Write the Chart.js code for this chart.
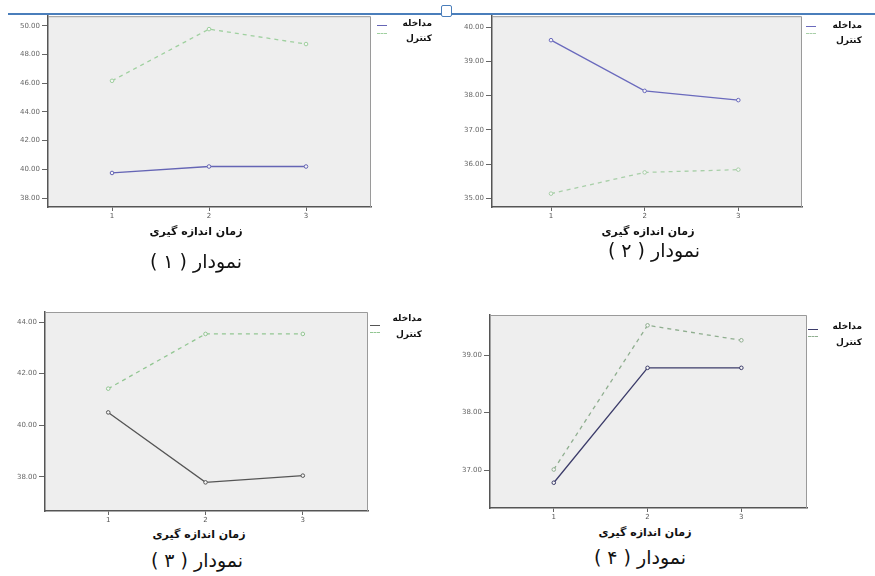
<!DOCTYPE html>
<html><head><meta charset="utf-8">
<script src="https://cdn.jsdelivr.net/npm/chart.js@4/dist/chart.umd.min.js"></script>
<style>
body{margin:0;width:875px;height:576px;background:#fff;position:relative;overflow:hidden;font-family:"DejaVu Sans",sans-serif;}
canvas{position:absolute;}
.t{position:absolute;direction:rtl;white-space:nowrap;color:#111;line-height:1;text-align:center;}
.xt{font-weight:bold;font-size:11px;width:200px;}
.cap{font-size:19px;width:200px;}
.lg{position:absolute;direction:rtl;white-space:nowrap;font-weight:bold;font-size:9px;line-height:1;color:#111;text-align:right;width:60px;}
.ln{position:absolute;height:0;}
#topline{position:absolute;left:8px;right:0;top:13px;height:0;border-top:2px solid #4a7ebb;}
#handle{position:absolute;left:441px;top:5px;width:9px;height:10px;border:1px solid #4a7ebb;background:#fff;border-radius:2px;}
</style></head>
<body>
<div id="topline"></div><div id="handle"></div>
<script>
// ---- data ----
const timePoints = ['1', '2', '3'];
const seriesLabels = ['مداخله', 'کنترل'];
const axisTitle = 'زمان اندازه گیری';
const captions = ['نمودار ( ۱ )', 'نمودار ( ۲ )', 'نمودار ( ۳ )', 'نمودار ( ۴ )'];

const chart1Intervention = [39.75, 40.20, 40.20];
const chart1Control = [46.17, 49.77, 48.73];
const chart1Ticks = [38, 40, 42, 44, 46, 48, 50];

const chart2Intervention = [39.62, 38.14, 37.87];
const chart2Control = [35.14, 35.76, 35.84];
const chart2Ticks = [35, 36, 37, 38, 39, 40];

const chart3Intervention = [40.50, 37.79, 38.05];
const chart3Control = [41.42, 43.54, 43.54];
const chart3Ticks = [38, 40, 42, 44];

const chart4Intervention = [36.78, 38.78, 38.78];
const chart4Control = [37.01, 39.52, 39.26];
const chart4Ticks = [37, 38, 39];

// ---- layout ----
const bgPlugin = {
  id: 'bg',
  beforeDraw(chart) {
    const a = chart.chartArea, c = chart.ctx;
    c.save(); c.fillStyle = '#eeeeee'; c.fillRect(a.left, a.top, a.right - a.left, a.bottom - a.top); c.restore();
  },
  afterDraw(chart) {
    const a = chart.chartArea, c = chart.ctx;
    c.save(); c.strokeStyle = '#9a9a9a'; c.lineWidth = 1;
    c.beginPath(); c.moveTo(a.left, a.top + 0.5); c.lineTo(a.right - 0.5, a.top + 0.5); c.lineTo(a.right - 0.5, a.bottom); c.stroke();
    c.restore();
  }
};

function build(rect, area, yMin, yMax, xMin, xMax, yTicks, s1, s2, c1, c2) {
  const cv = document.createElement('canvas');
  cv.width = rect.w; cv.height = rect.h;
  cv.style.left = rect.left + 'px'; cv.style.top = rect.top + 'px';
  cv.style.width = rect.w + 'px'; cv.style.height = rect.h + 'px';
  document.body.appendChild(cv);
  const pts = arr => arr.map((v, i) => ({ x: parseFloat(timePoints[i]), y: v }));
  new Chart(cv, {
    type: 'line',
    data: { datasets: [
      { label: seriesLabels[0], data: pts(s1), borderColor: c1, borderWidth: 1.3, pointRadius: 1.8, pointBorderWidth: 1, pointBackgroundColor: '#f6f6f6', pointBorderColor: c1, tension: 0 },
      { label: seriesLabels[1], data: pts(s2), borderColor: c2, borderWidth: 1.3, borderDash: [4, 4], pointRadius: 1.8, pointBorderWidth: 1, pointBackgroundColor: '#f6f6f6', pointBorderColor: c2, tension: 0 }
    ]},
    options: {
      responsive: false, animation: false, devicePixelRatio: 1,
      layout: { padding: { top: area.t - rect.top, right: rect.left + rect.w - area.r, left: 0, bottom: 0 } },
      plugins: { legend: { display: false }, tooltip: { enabled: false } },
      scales: {
        x: {
          type: 'linear', min: xMin, max: xMax,
          afterFit: s => { s.height = rect.top + rect.h - area.b; },
          afterBuildTicks: s => { s.ticks = timePoints.map(t => ({ value: parseFloat(t) })); },
          ticks: { callback: v => String(v), font: { size: 7, family: 'DejaVu Sans' }, color: '#555', padding: 1, maxRotation: 0 },
          grid: { drawOnChartArea: false, tickLength: 4, color: '#666' },
          border: { color: '#555', width: 1.5 }
        },
        y: {
          min: yMin, max: yMax,
          afterFit: s => { s.width = area.l - rect.left; },
          afterBuildTicks: s => { s.ticks = yTicks.map(v => ({ value: v })); },
          ticks: { callback: v => Number(v).toFixed(2), font: { size: 7, family: 'DejaVu Sans' }, color: '#666', padding: 2 },
          grid: { drawOnChartArea: false, tickLength: 6, color: '#666' },
          border: { color: '#555', width: 1.5 }
        }
      }
    },
    plugins: [bgPlugin]
  });
}

build({ left: 0, top: 10, w: 380, h: 222 }, { l: 48, t: 15, r: 371, b: 207 }, 37.38, 50.67, 0.34, 3.67, chart1Ticks, chart1Intervention, chart1Control, '#6565b5', '#9fd09f');
build({ left: 440, top: 10, w: 370, h: 222 }, { l: 492, t: 15, r: 802, b: 207 }, 34.75, 40.32, 0.37, 3.68, chart2Ticks, chart2Intervention, chart2Control, '#6a6abd', '#a8cfa8');
build({ left: 0, top: 300, w: 375, h: 225 }, { l: 45, t: 312, r: 368, b: 511 }, 36.68, 44.39, 0.35, 3.67, chart3Ticks, chart3Intervention, chart3Control, '#555555', '#92c692');
build({ left: 440, top: 300, w: 375, h: 225 }, { l: 490, t: 315, r: 807, b: 508 }, 36.34, 39.70, 0.32, 3.70, chart4Ticks, chart4Intervention, chart4Control, '#3c3c6a', '#8fae8f');

// ---- text ----
function txt(cls, s, left, top) {
  const d = document.createElement('div'); d.className = cls; d.textContent = s;
  d.style.left = left + 'px'; d.style.top = top + 'px'; document.body.appendChild(d);
}
function line(x, y, w, color, dashed) {
  const d = document.createElement('div'); d.className = 'ln';
  d.style.left = x + 'px'; d.style.top = y + 'px'; d.style.width = w + 'px';
  d.style.borderTop = '1px ' + (dashed ? 'dashed ' : 'solid ') + color;
  document.body.appendChild(d);
}
txt('t xt', axisTitle, 96, 226); txt('t cap', captions[0], 96, 252);
txt('t xt', axisTitle, 548, 226); txt('t cap', captions[1], 554, 241);
txt('t xt', axisTitle, 99, 529); txt('t cap', captions[2], 97, 551);
txt('t xt', axisTitle, 545, 527); txt('t cap', captions[3], 540, 548);

const legends = [
  { lx: 377, ly: [25, 33], tr: 432, ty: [19, 34], c: ['#6565b5', '#9fd09f'] },
  { lx: 806, ly: [26, 33], tr: 862, ty: [21, 36], c: ['#6a6abd', '#a8cfa8'] },
  { lx: 370, ly: [325, 332], tr: 422, ty: [314, 330], c: ['#555555', '#92c692'] },
  { lx: 808, ly: [329, 336], tr: 862, ty: [322, 338], c: ['#3c3c6a', '#8fae8f'] }
];
legends.forEach(L => {
  line(L.lx, L.ly[0], 10, L.c[0], false);
  line(L.lx, L.ly[1], 10, L.c[1], true);
  txt('lg', seriesLabels[0], L.tr - 60, L.ty[0]);
  txt('lg', seriesLabels[1], L.tr - 60, L.ty[1]);
});
</script>
</body></html>
